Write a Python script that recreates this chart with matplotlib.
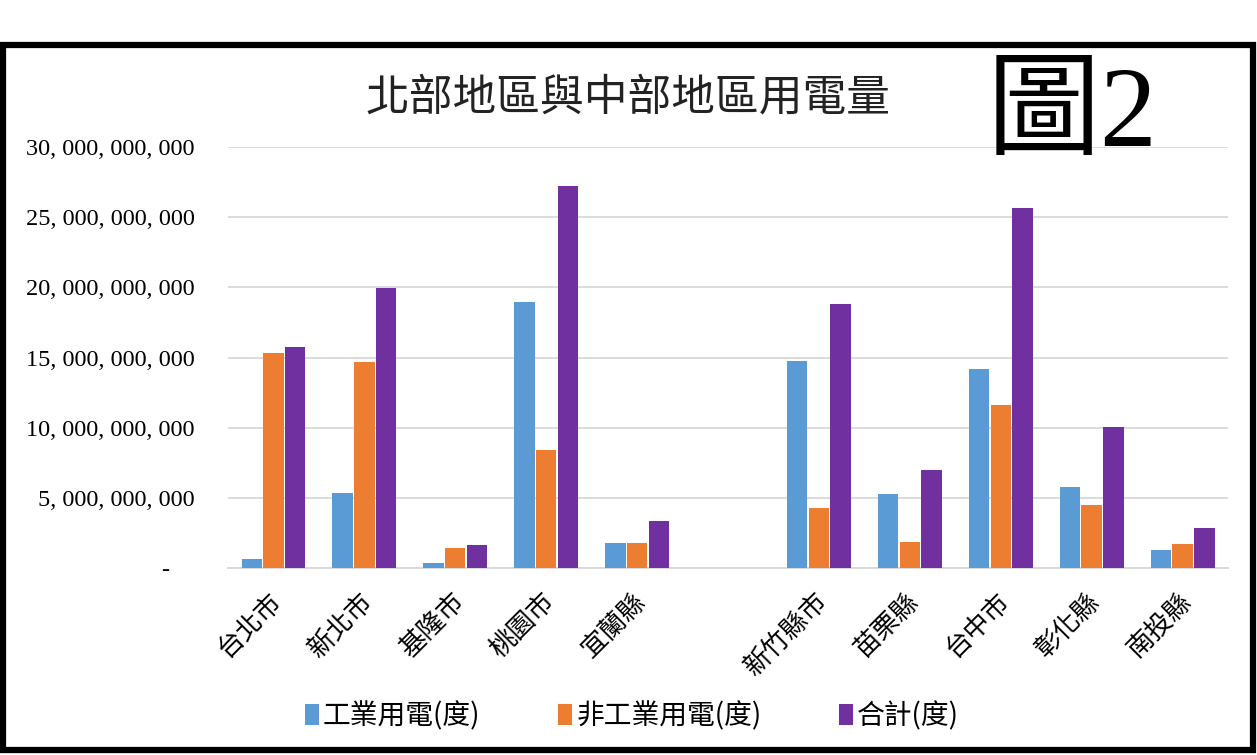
import matplotlib.pyplot as plt
import matplotlib.ticker as mticker
import matplotlib.transforms as mtrans
from matplotlib.patches import Rectangle
import numpy as np

# --- 數據 ---
categories = ['台北市', '新北市', '基隆市', '桃園市', '宜蘭縣', '',
              '新竹縣市', '苗栗縣', '台中市', '彰化縣', '南投縣']
industrial = [0.64e9, 5.36e9, 0.33e9, 18.92e9, 1.78e9, np.nan,
              14.74e9, 5.27e9, 14.17e9, 5.79e9, 1.26e9]
non_industrial = [15.29e9, 14.67e9, 1.40e9, 8.40e9, 1.78e9, np.nan,
                  4.25e9, 1.88e9, 11.61e9, 4.49e9, 1.71e9]
total = [15.72e9, 19.92e9, 1.62e9, 27.23e9, 3.35e9, np.nan,
         18.78e9, 6.98e9, 25.66e9, 10.04e9, 2.83e9]
series_names = ['工業用電(度)', '非工業用電(度)', '合計(度)']
colors = ['#5B9BD5', '#ED7D31', '#7030A0']

plt.rcParams['font.family'] = ['Noto Sans CJK TC', 'DejaVu Sans']

fig = plt.figure(figsize=(12.57, 7.55), dpi=100)
ax = fig.add_axes([228 / 1257, 1 - 568 / 755, 1000 / 1257, 421 / 755])

x = np.arange(len(categories))
step = 0.239
w = 0.225
handles = []
for i, (vals, name, c) in enumerate(zip([industrial, non_industrial, total], series_names, colors)):
    b = ax.bar(x + (i - 1) * step, vals, width=w, color=c, label=name, zorder=3)
    handles.append(b)

ax.set_xlim(-0.5, len(categories) - 0.5)
ax.set_ylim(0, 30e9)
ax.yaxis.set_major_locator(mticker.MultipleLocator(5e9))


def fmt(v, pos):
    if v == 0:
        return '-    '
    return f'{int(v):,}'.replace(',', ', ')


ax.yaxis.set_major_formatter(mticker.FuncFormatter(fmt))
ax.grid(axis='y', color='#D9D9D9', linewidth=1.3, zorder=0)
for s in ['top', 'right', 'left']:
    ax.spines[s].set_visible(False)
ax.spines['bottom'].set_color('#D9D9D9')
ax.spines['bottom'].set_linewidth(1.3)
ax.tick_params(axis='both', length=0)
ax.tick_params(axis='y', pad=24)
for lab in ax.get_yticklabels():
    lab.set_family(['Liberation Serif', 'DejaVu Serif'])
    lab.set_fontsize(17.5)

ax.set_xticks(x)
ax.set_xticklabels(categories, rotation=45, ha='right', rotation_mode='anchor', fontsize=19)
ax.tick_params(axis='x', pad=14)
shift = mtrans.ScaledTranslation(-5 / 100, 0, fig.dpi_scale_trans)
for lab in ax.get_xticklabels():
    lab.set_transform(lab.get_transform() + shift)

# 標題
fig.text(628 / 1257, 1 - 97 / 755, '北部地區與中部地區用電量', ha='center', va='center',
         fontsize=31.5, color='#222222')
fig.text(1072 / 1257, 1 - 118 / 755, '圖2', ha='center', va='center', fontsize=82,
         family=['Liberation Serif', 'Noto Sans CJK TC'])

# 圖例
fig.legend(handles=handles, labels=series_names, loc='center',
           bbox_to_anchor=(632 / 1257, 1 - 716 / 755), ncol=3, frameon=False,
           fontsize=20, handlelength=0.5, handleheight=0.8, handletextpad=0.15,
           columnspacing=2.8)

# 外框
fig.patches.append(Rectangle((3 / 1257, 5 / 755), 1250 / 1257, 705 / 755,
                             transform=fig.transFigure, fill=False,
                             edgecolor='black', linewidth=4.5))

fig.savefig('out.png', dpi=100)
